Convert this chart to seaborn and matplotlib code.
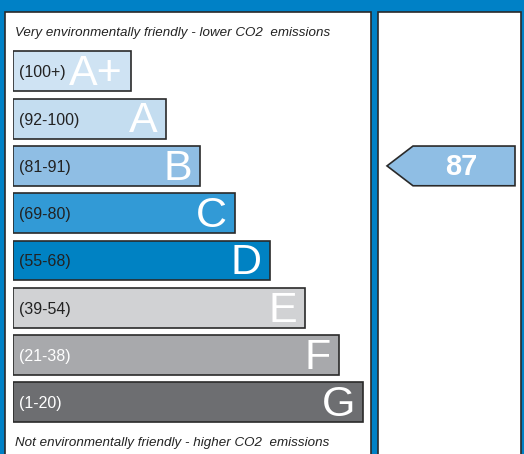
import matplotlib
matplotlib.use("Agg")
import matplotlib.pyplot as plt
from matplotlib.patches import Rectangle, Polygon
import seaborn as sns
import pandas as pd

bands = ["A+", "A", "B", "C", "D", "E", "F", "G"]
ranges = ["(100+)", "(92-100)", "(81-91)", "(69-80)", "(55-68)", "(39-54)", "(21-38)", "(1-20)"]
bar_lengths = [118, 153, 187, 222, 257, 292, 326, 350]
band_colors = ["#cfe3f3", "#c4ddf0", "#8fbee4", "#329ad6", "#0082c3", "#d1d2d4", "#a8a9ac", "#6d6e71"]
range_text_colors = ["#222222"] * 6 + ["white", "white"]
current_rating = 87
current_band = "B"

BLUE = "#0081c6"
EDGE = "#2a2a2a"
W, H = 524, 454

df = pd.DataFrame({"band": bands, "length": bar_lengths})

sns.set_theme(style="white")
plt.rcParams["font.family"] = ["Liberation Sans", "DejaVu Sans"]

fig = plt.figure(figsize=(W / 100, H / 100), dpi=100, facecolor=BLUE)

# background panels, in pixel coordinates
bg = fig.add_axes([0, 0, 1, 1])
bg.set_xlim(0, W)
bg.set_ylim(H, 0)
bg.axis("off")
bg.add_patch(Rectangle((5, 11.5), 366, 460, facecolor="white", edgecolor=EDGE, lw=1.2))
bg.add_patch(Rectangle((378, 11.5), 143, 460, facecolor="white", edgecolor=EDGE, lw=1.2))
# title sits above the top edge, only its descenders peek in
bg.text(150, -7, "Energy Rating", color="white", fontsize=22,
        fontweight="bold", ha="center", va="baseline")
bg.text(15, 36, "Very environmentally friendly - lower CO2  emissions", fontsize=9.6,
        style="italic", color="#222222", va="baseline")
bg.text(15, 446, "Not environmentally friendly - higher CO2  emissions", fontsize=9.6,
        style="italic", color="#222222", va="baseline")

# bars
pitch = 47.3
top = 71.3 - pitch / 2
ax_h = pitch * len(bands)
ax = fig.add_axes([13 / W, 1 - (top + ax_h) / H, 357 / W, ax_h / H])
sns.barplot(data=df, x="length", y="band", hue="band", palette=band_colors, orient="h",
            width=0.845, saturation=1, edgecolor=EDGE, linewidth=1.2, legend=False, ax=ax)
ax.set_xlim(0, 357)
ax.set_ylim(len(bands) - 0.5, -0.5)
ax.axis("off")
for i, (b, r, L, tc) in enumerate(zip(bands, ranges, bar_lengths, range_text_colors)):
    ax.text(6, i + 0.03, r, fontsize=11.5, color=tc, va="center", ha="left")
    ax.text(L - 8, i + 0.06, b, fontsize=31, color="white", va="center", ha="right")

# current rating arrow
ax2 = fig.add_axes([378 / W, 1 - (top + ax_h) / H, 143 / W, ax_h / H])
ax2.set_xlim(378, 521)
ax2.set_ylim(len(bands) - 0.5, -0.5)
ax2.axis("off")
row = bands.index(current_band)
hh = 0.42
ax2.add_patch(Polygon([(387, row), (413, row - hh), (515, row - hh), (515, row + hh), (413, row + hh)],
                      closed=True, facecolor=band_colors[row], edgecolor=EDGE, lw=1.2))
ax2.text(461, row + 0.03, str(current_rating), fontsize=21, fontweight="bold", color="white",
         ha="center", va="center")

fig.savefig("out.png", dpi=100, facecolor=BLUE)
